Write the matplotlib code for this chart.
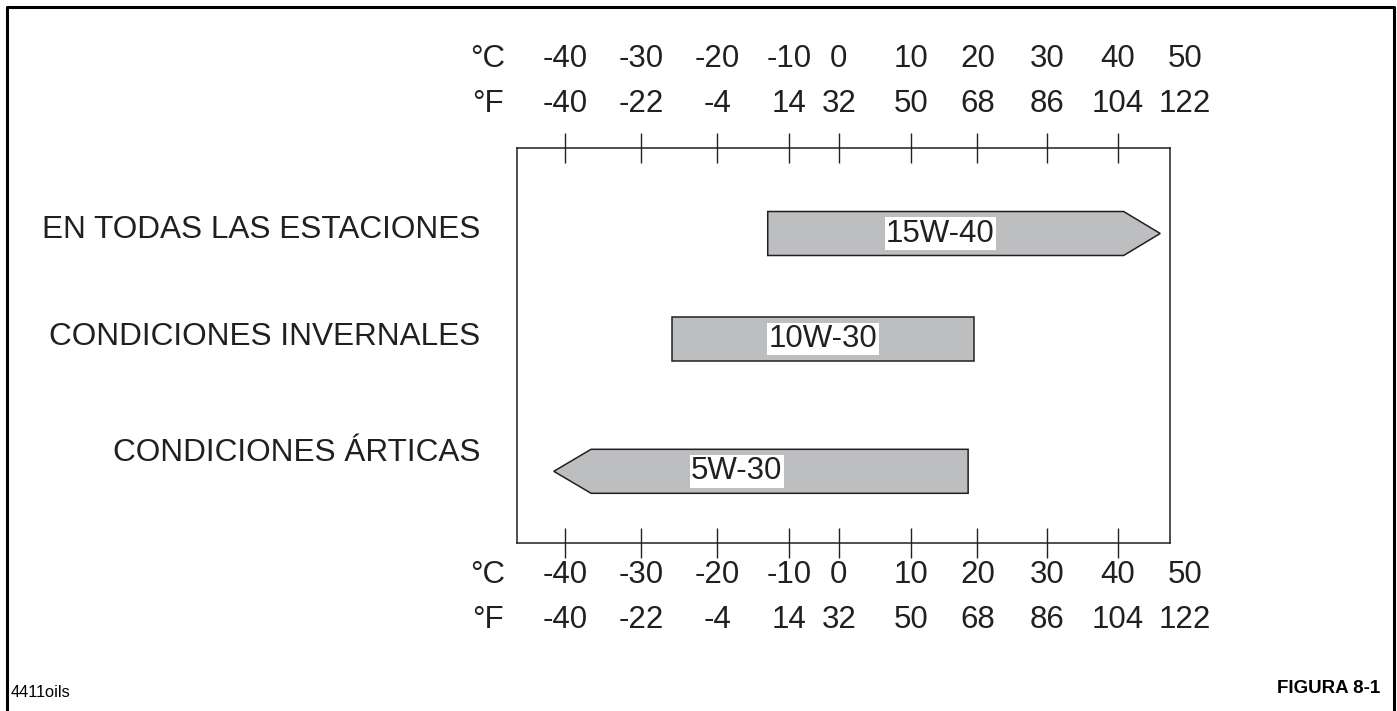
import matplotlib
matplotlib.use('Agg')
import matplotlib.pyplot as plt
import numpy as np
from matplotlib.patches import Polygon
from matplotlib.lines import Line2D
from matplotlib.transforms import blended_transform_factory

plt.rcParams['font.family'] = ['Liberation Sans', 'DejaVu Sans']

# temperature scale rows
temps_c = [-40, -30, -20, -10, 0, 10, 20, 30, 40, 50]
temps_f = [-40, -22, -4, 14, 32, 50, 68, 86, 104, 122]
tick_c = [-40, -30, -20, -10, 0, 10, 20, 30, 40]

# the printed scale is not linear: where each °C value sits along the box
scale_c = [-60, -40, -30, -20, -10, 0, 10, 20, 30, 40, 50, 60]
scale_pos = [413.3, 565.3, 641.3, 717.3, 789.3, 838.7, 910.7, 977.3, 1047.0, 1117.3, 1185.0, 1253.0]

# oils
row_names = ['EN TODAS LAS ESTACIONES', 'CONDICIONES INVERNALES', 'CONDICIONES ÁRTICAS']
oil_names = ['15W-40', '10W-30', '5W-30']
oil_lo = [-13.0, -26.0, -41.5]
oil_hi = [46.3, 19.5, 18.6]
oil_arrow = ['right', None, 'left']
oil_shoulder = [40.9, None, -36.6]
oil_label_c = [14.4, -3.2, -17.3]

ink = '#231f20'
fill = '#bcbec0'
W, H = 1397, 711


def fwd(c):
    return np.interp(c, scale_c, scale_pos)


def inv(p):
    return np.interp(p, scale_pos, scale_c)


fig = plt.figure(figsize=(W / 100, H / 100), dpi=100)
ax = fig.add_axes([517.3 / W, (H - 542.7) / H, 652.4 / W, 394.4 / H])
ax.set_xscale('function', functions=(fwd, inv))
ax.set_xlim(-46.3, 47.7)
ax.set_ylim(394.4, 0)   # y measured downward from the top of the box
for s in ax.spines.values():
    s.set_color(ink)
    s.set_linewidth(1.1)

ax.set_xticks(tick_c)
ax.set_xticks([], minor=True)
ax.set_yticks([])
ax.tick_params(axis='x', direction='inout', length=22, width=1.0, color=ink,
               top=True, bottom=True, labelbottom=False, labeltop=False)

# bars / arrows
row_y = [85.2, 190.9, 323.0]
bar_h = 44
for i in range(len(oil_names)):
    y = row_y[i]
    lo, hi = oil_lo[i], oil_hi[i]
    t, b = y - bar_h / 2, y + bar_h / 2
    if oil_arrow[i] == 'right':
        sh = oil_shoulder[i]
        pts = [(lo, t), (sh, t), (hi, y), (sh, b), (lo, b)]
    elif oil_arrow[i] == 'left':
        sh = oil_shoulder[i]
        pts = [(lo, y), (sh, t), (hi, t), (hi, b), (sh, b)]
    else:
        pts = [(lo, t), (hi, t), (hi, b), (lo, b)]
    ax.add_patch(Polygon(pts, closed=True, facecolor=fill, edgecolor=ink, linewidth=1.1))
    ax.text(oil_label_c[i], y, oil_names[i], ha='center', va='center', fontsize=22.5,
            color=ink, bbox=dict(facecolor='white', edgecolor='none', pad=1.0))

# scale labels above and below the box
trans = blended_transform_factory(ax.transData, ax.transAxes)
rows = [(1.2054, temps_c, '°C'), (1.0913, temps_f, '°F'),
        (-0.1022, temps_c, '°C'), (-0.2163, temps_f, '°F')]
for yb, vals, unit in rows:
    for c, v in zip(temps_c, vals):
        ax.text(c, yb, str(v), transform=trans, ha='center', va='baseline',
                fontsize=22.5, color=ink)
    ax.text(-0.0449, yb, unit, transform=ax.transAxes, ha='center', va='baseline',
            fontsize=22.5, color=ink)

# row captions
row_base = [238, 345, 461]
for name, yb in zip(row_names, row_base):
    fig.text(480 / W, 1 - yb / H, name, ha='right', va='baseline', fontsize=22.7, color=ink)

fig.text(11 / W, 1 - 696.7 / H, '4411oils', ha='left', va='baseline', fontsize=11.8, color='black')
fig.text(1380 / W, 1 - 693 / H, 'FIGURA 8-1', ha='right', va='baseline', fontsize=13.5,
         fontweight='bold', color='black')

# page frame (open at the bottom)
fig.add_artist(Line2D([7 / W, 7 / W, 1394 / W, 1394 / W], [0, 1 - 7 / H, 1 - 7 / H, 0],
                      transform=fig.transFigure, color='black', linewidth=2.2))

fig.savefig('out.png', dpi=100)
